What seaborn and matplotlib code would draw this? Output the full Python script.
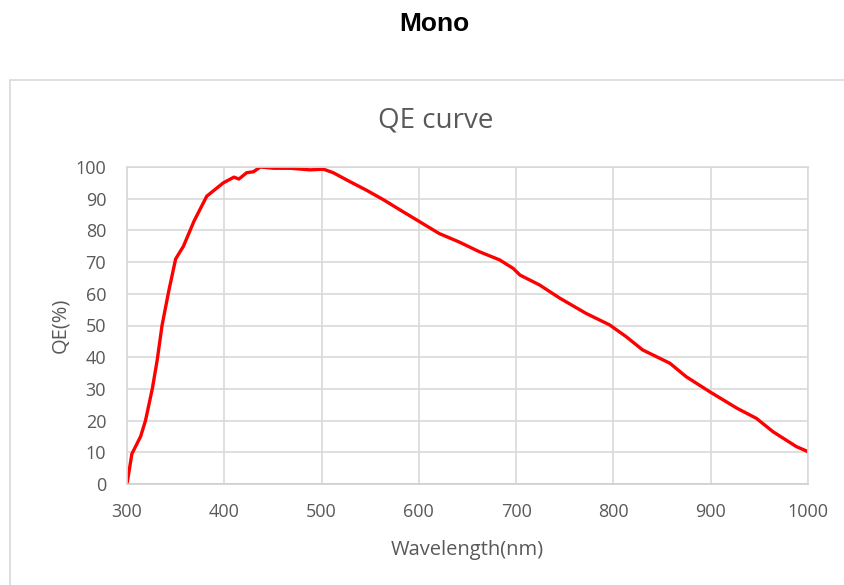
import matplotlib
matplotlib.use("Agg")
import matplotlib.pyplot as plt
import seaborn as sns
import pandas as pd
from matplotlib.patches import Rectangle

wavelength = [300, 305, 314, 319, 326, 331, 336, 343, 350, 358, 369, 382, 399, 410, 415,
              423, 430, 437, 451, 468, 488, 502, 512, 529, 546, 564, 581, 601, 621, 641,
              662, 683, 697, 704, 724, 745, 772, 796, 813, 830, 858, 875, 899, 927, 947,
              964, 988, 1000]
qe = [0, 9.5, 15, 20, 30, 39, 50, 61, 71, 75, 83, 90.8, 95, 96.8, 96.2,
      98.2, 98.5, 100, 99.6, 99.6, 99.1, 99.3, 98.2, 95.4, 92.7, 89.6, 86.4, 82.7, 79, 76.4,
      73.3, 70.7, 68, 65.9, 62.8, 58.6, 53.8, 50.2, 46.5, 42.3, 38.1, 33.8, 29.1, 23.9, 20.7,
      16.5, 11.8, 10.2]
x_ticks = [300, 400, 500, 600, 700, 800, 900, 1000]
y_ticks = [0, 10, 20, 30, 40, 50, 60, 70, 80, 90, 100]

df = pd.DataFrame({"Wavelength": wavelength, "QE": qe})

sns.set_theme(style="white")
plt.rcParams["font.family"] = ["Open Sans", "DejaVu Sans"]

text_color = "#595959"
grid_color = "#d9d9d9"

fig = plt.figure(figsize=(8.45, 5.85), dpi=100)
fig.patch.set_facecolor("white")

# outer chart box
fig.patches.append(Rectangle((10 / 845, -0.1), 1.2, (585 - 80) / 585 + 0.1,
                             transform=fig.transFigure, fill=False,
                             edgecolor=grid_color, linewidth=1.2, zorder=0))

fig.text(434 / 845, 1 - 24 / 585, "Mono", ha="center", va="center",
         fontsize=19, fontweight="bold", family=["Liberation Sans", "DejaVu Sans"], color="black")

fig.text(436 / 845, 1 - 121 / 585, "QE curve", ha="center", va="center",
         fontsize=20, color=text_color)

ax = fig.add_axes([127 / 845, 1 - 484 / 585, (808 - 127) / 845, (484 - 167) / 585])
sns.lineplot(data=df, x="Wavelength", y="QE", ax=ax, color="#ff0000", linewidth=2.4)

ax.set_xlim(300, 1000)
ax.set_ylim(0, 100)
ax.set_xticks(x_ticks)
ax.set_yticks(y_ticks)
ax.grid(True, color=grid_color, linewidth=1.2)
for s in ax.spines.values():
    s.set_color(grid_color)
    s.set_linewidth(1.2)
ax.spines["bottom"].set_color("#cfcfcf")
ax.tick_params(axis="both", length=0, labelsize=13, labelcolor=text_color)
ax.tick_params(axis="x", pad=14)
ax.tick_params(axis="y", pad=15)
ax.set_xlabel("Wavelength(nm)", fontsize=14.5, color=text_color, labelpad=13)
ax.set_ylabel("QE(%)", fontsize=14.5, color=text_color, labelpad=4)

fig.savefig("out.png", dpi=100, facecolor="white")
